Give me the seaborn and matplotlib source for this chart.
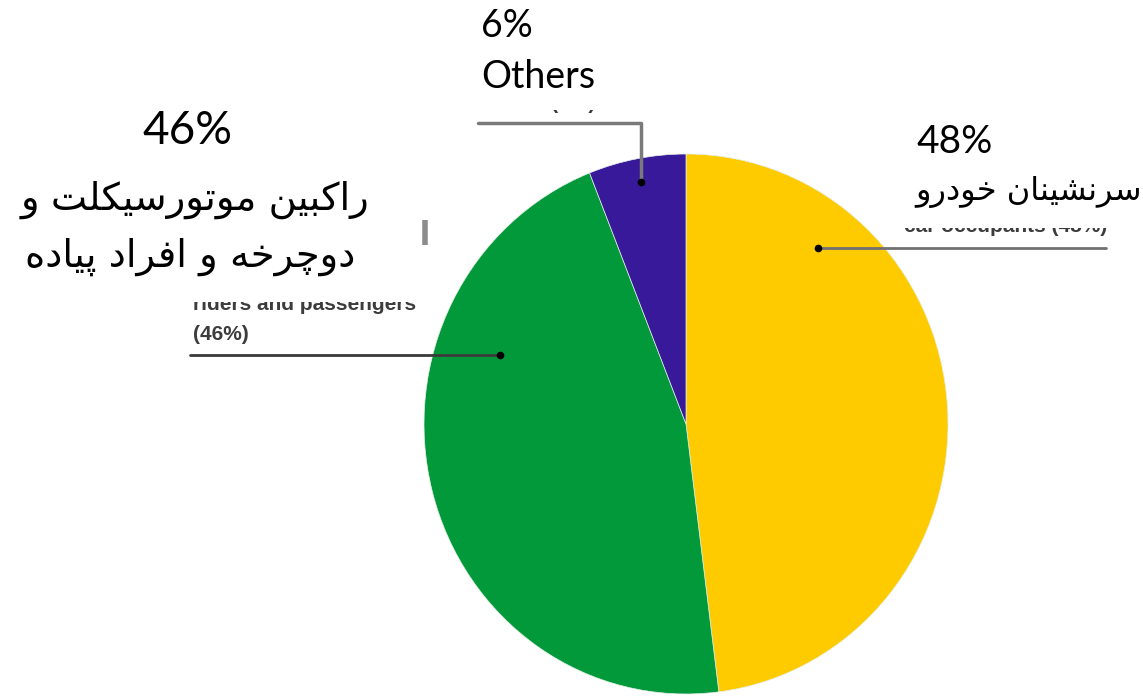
import matplotlib
matplotlib.use("Agg")
import matplotlib.pyplot as plt
from matplotlib.patches import Rectangle
import seaborn as sns

# ---------------- data ----------------
categories = ["سرنشینان خودرو", "راکبین موتورسیکلت و دوچرخه و افراد پیاده", "Others"]
label_lines = [["سرنشینان خودرو"], ["راکبین موتورسیکلت و", "دوچرخه و افراد پیاده"], ["Others"]]
shares = [48, 46, 6]
pct_labels = ["48%", "46%", "6%"]
english_labels = ["car occupants (48%)", "riders and passengers", "(46%)", "Others (6%)"]
colors = ["#FDCB00", "#02993B", "#38199A"]

# ------------- minimal Persian shaping (presentation forms, visual order) -------------
FORMS = {
    "ا": (0xFE8D, 0xFE8E, None, None),
    "ب": (0xFE8F, 0xFE90, 0xFE91, 0xFE92),
    "پ": (0xFB56, 0xFB57, 0xFB58, 0xFB59),
    "ت": (0xFE95, 0xFE96, 0xFE97, 0xFE98),
    "چ": (0xFB7A, 0xFB7B, 0xFB7C, 0xFB7D),
    "خ": (0xFEA5, 0xFEA6, 0xFEA7, 0xFEA8),
    "د": (0xFEA9, 0xFEAA, None, None),
    "ر": (0xFEAD, 0xFEAE, None, None),
    "س": (0xFEB1, 0xFEB2, 0xFEB3, 0xFEB4),
    "ش": (0xFEB5, 0xFEB6, 0xFEB7, 0xFEB8),
    "ف": (0xFED1, 0xFED2, 0xFED3, 0xFED4),
    "ک": (0xFB8E, 0xFB8F, 0xFB90, 0xFB91),
    "ل": (0xFEDD, 0xFEDE, 0xFEDF, 0xFEE0),
    "م": (0xFEE1, 0xFEE2, 0xFEE3, 0xFEE4),
    "ن": (0xFEE5, 0xFEE6, 0xFEE7, 0xFEE8),
    "ه": (0xFEE9, 0xFEEA, 0xFEEB, 0xFEEC),
    "و": (0xFEED, 0xFEEE, None, None),
    "ی": (0xFBFC, 0xFBFD, 0xFBFE, 0xFBFF),
}


def shape(text):
    out = []
    n = len(text)
    for i, c in enumerate(text):
        if c not in FORMS:
            out.append(c)
            continue
        prev = text[i - 1] if i > 0 else None
        nxt = text[i + 1] if i < n - 1 else None
        jp = prev in FORMS and FORMS[prev][2] is not None
        jn = FORMS[c][2] is not None and nxt in FORMS
        f = FORMS[c]
        if jp and jn:
            g = f[3]
        elif jp:
            g = f[1]
        elif jn:
            g = f[2]
        else:
            g = f[0]
        out.append(chr(g))
    return "".join(reversed(out))


# ---------------- figure ----------------
sns.set_theme(style="white")
plt.rcParams["font.family"] = ["Lato", "DejaVu Sans"]

W, H = 1143, 698
fig = plt.figure(figsize=(W / 100, H / 100), dpi=100)
fig.patch.set_facecolor("white")

cx, cy, rx, ry = 686, 424, 262, 270
pie_ax = fig.add_axes([(cx - rx) / W, (H - cy - ry) / H, 2 * rx / W, 2 * ry / H])
pie_ax.pie(shares, colors=colors, startangle=90, counterclock=False, radius=1,
           wedgeprops=dict(linewidth=0.5, edgecolor="#e4efe4"))
pie_ax.set_aspect("auto")
pie_ax.set_xlim(-1, 1)
pie_ax.set_ylim(-1, 1)
pie_ax.axis("off")

ov = fig.add_axes([0, 0, 1, 1])
ov.set_xlim(0, W)
ov.set_ylim(H, 0)
ov.axis("off")
ov.patch.set_alpha(0)

# remnants of the original English labels (partly covered)
rem = dict(family="Liberation Sans", fontweight="bold", fontsize=15, color="#3c3c3c", zorder=1)
ov.text(1107, 232, english_labels[0], ha="right", va="baseline", **rem)
ov.text(193, 310, english_labels[1], ha="left", va="baseline", **rem)
ov.text(193, 340, english_labels[2], ha="left", va="baseline", **rem)
ov.text(478, 109, english_labels[3], ha="left", va="baseline", **rem)
ov.plot([424.5, 424.5], [220, 245], color="#666666", lw=4, alpha=0.75, zorder=1,
        solid_capstyle="butt")

# white boxes that hide most of the English labels
for (x0, y0, x1, y1) in [(0, 90, 421, 302), (895, 100, W, 228), (470, 0, 660, 110)]:
    ov.add_patch(Rectangle((x0, y0), x1 - x0, y1 - y0, facecolor="white",
                           edgecolor="none", zorder=2))

# leader lines
ov.plot([190, 500], [355, 355], color="#3a3a3a", lw=2, zorder=3)
ov.plot([500], [355], "o", color="black", ms=4.5, zorder=3)
ov.plot([818, 1106], [248, 248], color="#707070", lw=2, zorder=3)
ov.plot([818], [248], "o", color="black", ms=4.5, zorder=3)
ov.plot([478, 641, 641], [123, 123, 182], color="#7a7a7a", lw=2.5, zorder=3)
ov.plot([641], [182], "o", color="black", ms=4.5, zorder=3)

# labels
lab = dict(color="black", zorder=4)
ov.text(916, 142, pct_labels[0], ha="left", va="center", fontsize=28, **lab)
ov.text(915, 192, shape(label_lines[0][0]), ha="left", va="center", fontsize=23,
        family="DejaVu Sans", **lab)

ov.text(187, 131, pct_labels[1], ha="center", va="center", fontsize=33, **lab)
ov.text(195, 200, shape(label_lines[1][0]), ha="center", va="center", fontsize=27.7,
        family="DejaVu Sans", **lab)
ov.text(190, 257, shape(label_lines[1][1]), ha="center", va="center", fontsize=27.7,
        family="DejaVu Sans", **lab)

ov.text(481, 26, pct_labels[2], ha="left", va="center", fontsize=27, **lab)
ov.text(481, 77, label_lines[2][0], ha="left", va="center", fontsize=27, **lab)

fig.savefig("out.png", dpi=100, facecolor="white")
